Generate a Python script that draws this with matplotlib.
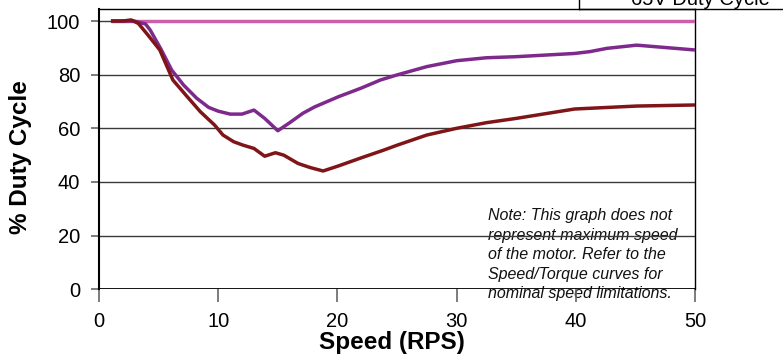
import matplotlib
matplotlib.use("Agg")
import matplotlib.pyplot as plt
from matplotlib.lines import Line2D

plt.rcParams['font.family'] = ['Liberation Sans', 'DejaVu Sans']

# ---- data ----
pink_x = [1, 3, 5, 10, 15, 20, 25, 30, 35, 40, 45, 50]
pink_y = [100, 100, 100, 100, 100, 100, 100, 100, 100, 100, 100, 100]

purple_x = [1, 2.9, 3.9, 4.3, 5.2, 6.1, 7.1, 8.2, 9.2, 10.0, 11.0, 12.0, 13.0, 13.9,
            15.0, 16.0, 17.1, 18.1, 19.1, 20.1, 22.0, 23.6, 25.0, 27.5, 30.0, 32.5,
            35.0, 39.9, 41.2, 42.6, 45.1, 50.0]
purple_y = [100, 100, 98.9, 96.6, 89.5, 81.7, 76.1, 71.2, 67.8, 66.4, 65.3, 65.3, 66.8, 63.7,
            59.1, 62.1, 65.6, 68.0, 69.9, 71.8, 75.0, 78.0, 79.9, 83.0, 85.2, 86.3,
            86.7, 87.9, 88.6, 89.8, 91.0, 89.2]

red_x = [1, 2, 2.7, 3.3, 4.1, 5.1, 6.2, 7.4, 8.5, 9.7, 10.4, 11.3, 12.1, 13.0, 13.9,
         14.8, 15.5, 16.7, 17.7, 18.8, 20.1, 22.0, 23.9, 25.0, 27.5, 30.0, 32.5, 35.0,
         39.9, 45.1, 50.0]
red_y = [100, 100, 100.4, 99.1, 94.8, 89.2, 78.0, 71.8, 66.2, 61.2, 57.5, 55.0, 53.7, 52.5, 49.6,
         50.9, 50.0, 46.9, 45.4, 44.1, 46.0, 49.0, 51.9, 53.7, 57.5, 60.0, 62.1, 63.7,
         67.2, 68.3, 68.7]

x_ticks = [0, 10, 20, 30, 40, 50]
y_ticks = [0, 20, 40, 60, 80, 100]
x_label = "Speed (RPS)"
y_label = "% Duty Cycle"
legend_text = "65V Duty Cycle"
note_text = ("Note: This graph does not\nrepresent maximum speed\nof the motor. Refer to the\n"
             "Speed/Torque curves for\nnominal speed limitations.")

W, H = 783, 356
fig = plt.figure(figsize=(W / 100, H / 100), dpi=100)
ax = fig.add_axes([99 / W, 1 - 289.3 / H, (695 - 99) / W, (289.3 - 8.5) / H])
ax.set_xlim(0, 50)
ax.set_ylim(0, 104.66)

# gridlines
for yv in y_ticks[1:]:
    ax.axhline(yv, color='#3a3a3a', lw=1.0, zorder=1)
ax.axhline(0, color='black', lw=1.3, zorder=1)

# series
ax.plot(pink_x, pink_y, color='#CC5FA8', lw=2.5, zorder=3, solid_capstyle='butt')
ax.plot(purple_x, purple_y, color='#7E2A8C', lw=2.5, zorder=4, solid_capstyle='butt')
ax.plot(red_x, red_y, color='#801518', lw=2.5, zorder=5, solid_capstyle='butt')

# note
ax.text(32.6, 30.3, note_text, style='italic', fontsize=11.5, color='#111111',
        va='top', ha='left', linespacing=1.38, zorder=0.5)

# spines
ax.spines['bottom'].set_visible(False)
ax.spines['left'].set_linewidth(1.5)
ax.spines['right'].set_linewidth(1.0)
ax.spines['top'].set_linewidth(1.0)

ax.set_xticks(x_ticks)
ax.set_yticks(y_ticks)
ax.set_xticklabels([str(v) for v in x_ticks])
ax.set_yticklabels([str(v) for v in y_ticks])
ax.tick_params(axis='x', direction='out', length=9.5, width=1.2, color='#666666',
               labelsize=14.5, pad=7)
ax.tick_params(axis='y', direction='out', length=5.5, width=1.2, color='#666666',
               labelsize=14.5, pad=8)

# axis labels
fig.text(392 / W, 1 - 343 / H, x_label, fontsize=17.5, fontweight='bold',
         ha='center', va='center')
fig.text(21 / W, 1 - 157 / H, y_label, fontsize=17.5, fontweight='bold',
         ha='center', va='center', rotation=90)

# partial legend box at top right
fig.add_artist(Line2D([579 / W, 579 / W], [1 - 9 / H, 1.02], transform=fig.transFigure,
                      color='black', lw=1.0))
fig.add_artist(Line2D([579 / W, 1.0], [1 - 9 / H, 1 - 9 / H], transform=fig.transFigure,
                      color='black', lw=1.0))
fig.text(631 / W, 1 - 5 / H, legend_text, fontsize=14.5, ha='left', va='baseline')

fig.savefig("out.png", dpi=100)
